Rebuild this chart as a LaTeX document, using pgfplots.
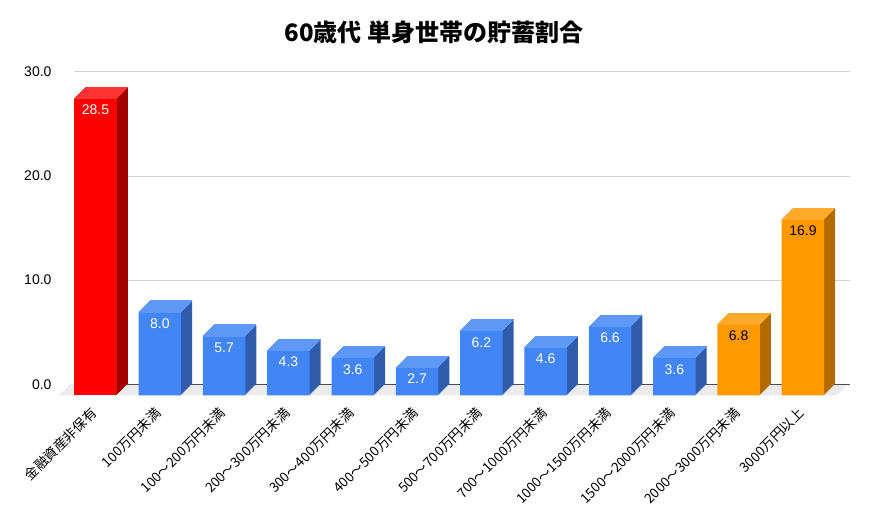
\documentclass[border=0pt]{standalone}
\usepackage{fontspec}
\setmainfont{Liberation Sans}
\newfontfamily\jp{Noto Sans CJK JP}
\usepackage{pgfplots}
\usepackage{pgfplotstable}
\pgfplotsset{compat=1.18}

\definecolor{redF}{HTML}{FF0000}
\definecolor{redS}{HTML}{A30000}
\definecolor{redT}{HTML}{FF3333}
\definecolor{bluF}{HTML}{4285F4}
\definecolor{bluS}{HTML}{2F5DAC}
\definecolor{bluT}{HTML}{5E98F6}
\definecolor{oraF}{HTML}{FF9900}
\definecolor{oraS}{HTML}{B36B00}
\definecolor{oraT}{HTML}{FFAA2B}

\pgfplotstableread{
x y
0 28.5
}\redtab
\pgfplotstableread{
x y
1 8.0
2 5.7
3 4.3
4 3.6
5 2.7
6 6.2
7 4.6
8 6.6
9 3.6
}\blutab
\pgfplotstableread{
x y
10 6.8
11 16.9
}\oratab

% 3D bar: side and top faces are swept copies, front face on top
\newcommand\threedbars[5]{%
  \pgfplotsinvokeforeach{1,...,11}{%
    \addplot[ybar, bar width=42.5pt, bar shift=0pt, fill=#3, draw=none,
      xshift={(##1-11)*1pt}, yshift={(##1-11)*1pt}, forget plot] table {#1};
  }
  \pgfplotsinvokeforeach{0,...,11}{%
    \addplot[only marks, mark=-, mark size=21.25pt, line width=1.3pt, color=#4,
      xshift={(##1-11)*1pt}, yshift={(##1-11)*1pt}, forget plot] table {#1};
  }
  \addplot[ybar, bar width=42.5pt, bar shift=0pt, fill=#2, draw=none,
    xshift=-11pt, yshift=-11pt, forget plot,
    nodes near coords,
    nodes near coords style={font=\fontsize{14}{16}\selectfont, text=#5,
      anchor=north, yshift=-3pt,
      /pgf/number format/.cd, fixed, fixed zerofill, precision=1,
      assume math mode=true}] table {#1};
}

\begin{document}
\begin{tikzpicture}
\useasboundingbox (0,0) rectangle (870pt,528pt);
\node[font=\jp\bfseries\fontsize{24}{28}\selectfont] at (434pt,495.5pt)
  {60歳代 単身世帯の貯蓄割合};
\begin{axis}[
  at={(75pt,143.7pt)}, anchor=south west,
  scale only axis, width=775pt, height=312.6pt,
  xmin=-0.49, xmax=11.56, ymin=0, ymax=30,
  clip=false,
  axis line style={draw=none},
  major tick style={draw=none},
  ymajorgrids=true,
  grid style={black!18, line width=0.8pt},
  ytick={0,10,20,30},
  yticklabel style={font=\fontsize{14}{16}\selectfont, anchor=east, xshift=-20pt,
    /pgf/number format/.cd, fixed, fixed zerofill, precision=1,
    assume math mode=true},
  xtick={0,...,11},
  xticklabels={金融資産非保有, 100万円未満, 100～200万円未満, 200～300万円未満,
    300～400万円未満, 400～500万円未満, 500～700万円未満, 700～1000万円未満,
    1000～1500万円未満, 1500～2000万円未満, 2000～3000万円未満, 3000万円以上},
  xticklabel style={font=\jp\fontsize{13.5}{15}\selectfont, xshift=-10pt, yshift=-24pt,
    rotate=45, anchor=east},
]
\fill[black!8] (axis cs:-0.57,0) -- (axis cs:11.53,0)
  -- ([xshift=-11pt,yshift=-11pt]axis cs:11.53,0)
  -- ([xshift=-11pt,yshift=-11pt]axis cs:-0.57,0) -- cycle;
\draw[black!70, line width=1pt] (axis cs:-0.49,0) -- (axis cs:11.56,0);
\threedbars{\redtab}{redF}{redS}{redT}{white}
\threedbars{\blutab}{bluF}{bluS}{bluT}{white}
\threedbars{\oratab}{oraF}{oraS}{oraT}{black}
\end{axis}
\end{tikzpicture}
\end{document}
